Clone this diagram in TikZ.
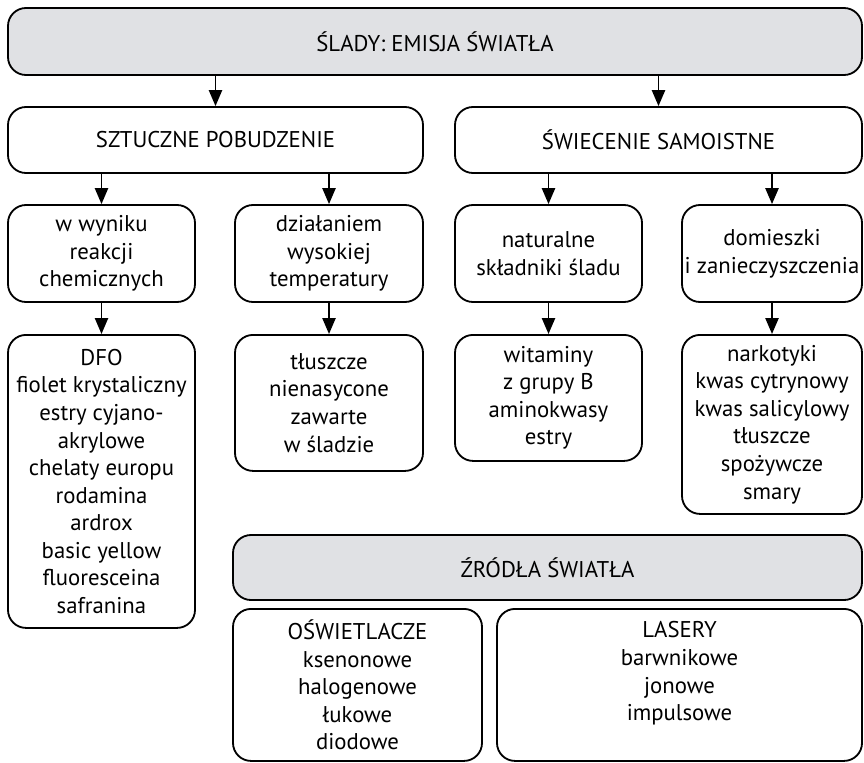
\documentclass[tikz,border=0pt]{standalone}
\usepackage{fontspec}
\setmainfont{PT Sans}
\usetikzlibrary{arrows.meta}
\definecolor{boxgray}{RGB}{224,225,228}
\tikzset{>={Triangle[length=4mm,width=3.3mm]}}
\tikzset{box/.style={draw,line width=1.3pt,rounded corners=0.45cm,align=center,inner sep=0pt,font=\fontsize{16.2}{19.6}\selectfont}}
\tikzset{headbox/.style={box,fill=boxgray}}
\tikzset{lampbox/.style={box,anchor=north,minimum height=3.8cm}}
\tikzset{arr/.style={->,line width=1.3pt}}

\begin{document}
\begin{tikzpicture}
  \useasboundingbox (0,0) rectangle (21.6,-19.05);

  % Boxes
  \node[headbox,minimum width=21.35cm,minimum height=1.675cm] (slady) at (10.875,-1.0375) {ŚLADY: EMISJA ŚWIATŁA};

  \node[box,minimum width=10.375cm,minimum height=1.65cm] (sztuczne) at (5.3875,-3.5) {SZTUCZNE POBUDZENIE};
  \node[box,minimum width=10.175cm,minimum height=1.65cm] (samoistne) at (16.4625,-3.5) {ŚWIECENIE SAMOISTNE};

  \node[box,minimum width=4.675cm,minimum height=2.425cm] (chem) at (2.5375,-6.3375) {w wyniku\\reakcji\\chemicznych};
  \node[box,minimum width=4.7cm,minimum height=2.425cm] (temp) at (8.225,-6.3375) {działaniem\\wysokiej\\temperatury};
  \node[box,minimum width=4.675cm,minimum height=2.425cm] (natur) at (13.7125,-6.3375) {naturalne\\składniki śladu};
  \node[box,minimum width=4.5cm,minimum height=2.425cm] (domiesz) at (19.3,-6.3375) {domieszki\\i zanieczyszczenia};

  \node[box,anchor=north,minimum width=4.675cm,minimum height=7.325cm] (dfo) at (2.5375,-8.35) {DFO\\fiolet krystaliczny\\estry cyjano-\\akrylowe\\chelaty europu\\rodamina\\ardrox\\basic yellow\\fluoresceina\\safranina};
  \node[box,anchor=north,minimum width=4.7cm,minimum height=3.4cm] (tluszcze) at (8.225,-8.35) {tłuszcze\\nienasycone\\zawarte\\w śladzie};
  \node[box,anchor=north,minimum width=4.675cm,minimum height=3.15cm] (witaminy) at (13.7125,-8.35) {witaminy\\z grupy B\\aminokwasy\\estry};
  \node[box,anchor=north,minimum width=4.5cm,minimum height=4.475cm] (narkotyki) at (19.3,-8.35) {narkotyki\\kwas cytrynowy\\kwas salicylowy\\tłuszcze\\spożywcze\\smary};

  \node[headbox,minimum width=15.725cm,minimum height=1.625cm] (zrodla) at (13.6875,-14.1875) {ŹRÓDŁA ŚWIATŁA};
  \node[lampbox,minimum width=6.225cm] (oswietl) at (8.9375,-15.2) {OŚWIETLACZE\\ksenonowe\\halogenowe\\łukowe\\diodowe};
  \node[lampbox,minimum width=9.125cm,text depth=19.6pt] (lasery) at (16.9875,-15.2) {LASERY\\barwnikowe\\jonowe\\impulsowe};

  % Arrows
  \draw[arr] (slady.south -| sztuczne.north) -- (sztuczne.north);
  \draw[arr] (slady.south -| samoistne.north) -- (samoistne.north);
  \draw[arr] (sztuczne.south -| chem.north) -- (chem.north);
  \draw[arr] (sztuczne.south -| temp.north) -- (temp.north);
  \draw[arr] (samoistne.south -| natur.north) -- (natur.north);
  \draw[arr] (samoistne.south -| domiesz.north) -- (domiesz.north);
  \draw[arr] (chem.south) -- (dfo.north);
  \draw[arr] (temp.south) -- (tluszcze.north);
  \draw[arr] (natur.south) -- (witaminy.north);
  \draw[arr] (domiesz.south) -- (narkotyki.north);
\end{tikzpicture}
\end{document}
